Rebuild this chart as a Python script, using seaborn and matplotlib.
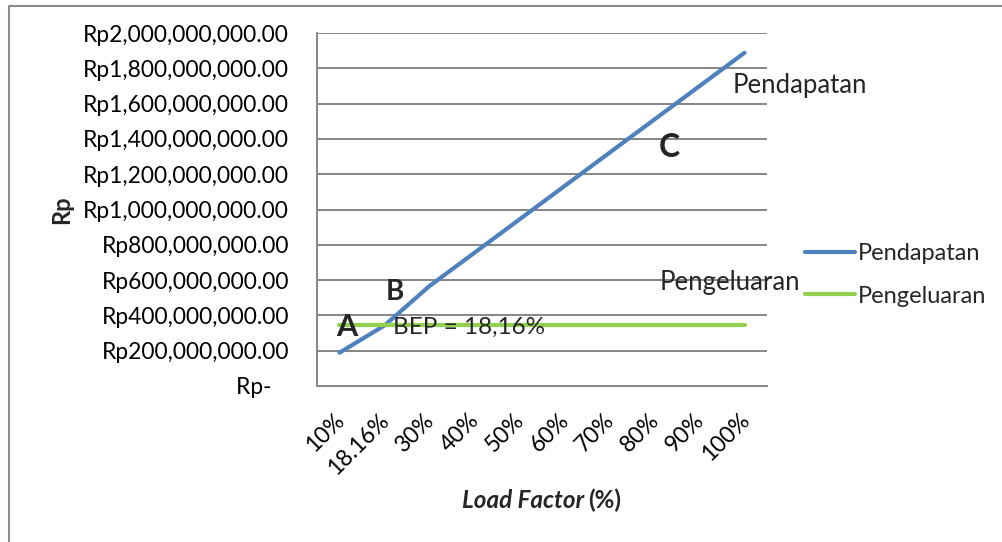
import matplotlib
matplotlib.use("Agg")
import matplotlib.pyplot as plt
import matplotlib.transforms as mtransforms
from matplotlib.lines import Line2D
from matplotlib.ticker import FuncFormatter, MultipleLocator
import pandas as pd
import seaborn as sns

# Load factor categories and the two series (Rupiah)
load_factor = ["10%", "18.16%", "30%", "40%", "50%", "60%", "70%", "80%", "90%", "100%"]
pendapatan = [188_800_000, 342_900_000, 566_400_000, 755_200_000, 944_000_000,
              1_132_800_000, 1_321_600_000, 1_510_400_000, 1_699_200_000, 1_888_000_000]
pengeluaran = [342_900_000] * 10
series_names = ["Pendapatan", "Pengeluaran"]
series_colors = ["#4F81BD", "#92D050"]

df = pd.concat([
    pd.DataFrame({"Load Factor": load_factor, "Rp": pendapatan, "Seri": series_names[0]}),
    pd.DataFrame({"Load Factor": load_factor, "Rp": pengeluaran, "Seri": series_names[1]}),
], ignore_index=True)

sns.set_theme(style="white")
plt.rcParams["font.family"] = ["Lato", "DejaVu Sans"]

W, H = 1003, 542
fig = plt.figure(figsize=(W / 100, H / 100), dpi=100)
ax = fig.add_axes([317 / W, 1 - 386 / H, (767 - 317) / W, (386 - 33) / H])

sns.lineplot(data=df, x="Load Factor", y="Rp", hue="Seri", palette=series_colors,
             sort=False, linewidth=3, ax=ax, legend=False)
for ln in ax.lines:
    ln.set_solid_capstyle("round")

ax.set_xlim(-0.5, len(load_factor) - 0.5)
ax.set_ylim(0, 2_000_000_000)
ax.yaxis.set_major_locator(MultipleLocator(200_000_000))


def rupiah(v, pos):
    if v == 0:
        return "Rp-   "
    return f"Rp{v:,.2f}"


ax.yaxis.set_major_formatter(FuncFormatter(rupiah))
ax.grid(axis="y", color="#868686", linewidth=1.4)
ax.set_axisbelow(True)
for side in ["top", "right"]:
    ax.spines[side].set_visible(False)
for side in ["left", "bottom"]:
    ax.spines[side].set_color("#868686")
    ax.spines[side].set_linewidth(1.4)

ax.tick_params(axis="y", labelsize=16.4, pad=20, length=0, colors="black")
ax.tick_params(axis="x", labelsize=16.4, pad=17, length=0, colors="black")
ax.set_xticks(range(len(load_factor)))
ax.set_xticklabels(load_factor, rotation=45, ha="right", va="top",
                   rotation_mode="anchor")
shift = mtransforms.ScaledTranslation(-6 / 100, 0, fig.dpi_scale_trans)
for lbl in ax.get_xticklabels():
    lbl.set_transform(lbl.get_transform() + shift)

ax.set_xlabel("")
ax.set_ylabel("")

# Axis titles
fig.text(62 / W, 1 - 210 / H, "Rp", rotation=90, ha="center", va="center",
         fontsize=17, fontweight="bold")
fig.text(584 / W, 1 - 500 / H, "Load Factor", ha="right", va="center",
         fontsize=17.5, fontweight="bold", fontstyle="italic")
fig.text(588 / W, 1 - 500 / H, "(%)", ha="left", va="center",
         fontsize=17.5, fontweight="bold")

# Chart annotations
ax.text(8.74, 1_705_000_000, "Pendapatan", fontsize=18.5, ha="left", va="center")
ax.text(7.12, 585_000_000, "Pengeluaran", fontsize=18.5, ha="left", va="center")
ax.text(7.34, 1_350_000_000, "C", fontsize=23, fontweight="bold", ha="center", va="center")
ax.text(1.23, 530_000_000, "B", fontsize=20, fontweight="bold", ha="center", va="center")
ax.text(0.17, 335_000_000, "A", fontsize=22, fontweight="bold", ha="center", va="center")
ax.text(1.2, 335_000_000, "BEP = 18,16%", fontsize=17.5, ha="left", va="center")

# Legend
handles = [Line2D([], [], color=c, linewidth=3) for c in series_colors]
fig.legend(handles, series_names, loc="center left",
           bbox_to_anchor=(805 / W, 1 - 275 / H), frameon=False, fontsize=17,
           handlelength=2.1, handletextpad=0.15, labelspacing=0.9,
           borderpad=0, borderaxespad=0)

# Chart area border (left and top edges)
fig.add_artist(Line2D([9.5 / W, 9.5 / W, 1.0], [0.0, 1 - 5.5 / H, 1 - 5.5 / H],
                      transform=fig.transFigure, color="#8C8C8C", linewidth=1.5))

fig.savefig("out.png", dpi=100, facecolor="white")
